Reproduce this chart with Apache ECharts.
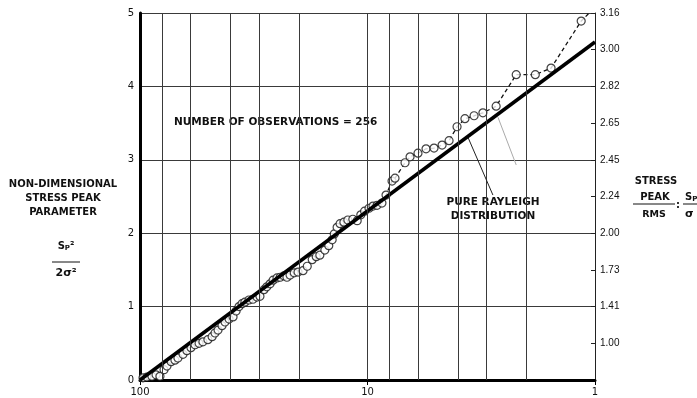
<!DOCTYPE html>
<html><head><meta charset="utf-8">
<script src="https://cdn.jsdelivr.net/npm/echarts@6/dist/echarts.min.js"></script>
<style>html,body{margin:0;padding:0;background:#fff}#c{width:697px;height:398px}</style>
</head><body><div id="c"></div>
<script>
// Percentage of peaks exceeding (log axis, reversed) and non-dimensional stress peak parameter
const observedPercent = [97.0, 93.2, 88.6, 85.0, 81.7, 78.4, 76.1, 73.0, 70.2, 68.1,
  64.7, 62.2, 59.7, 57.3, 55.0, 52.9, 50.3, 48.2, 46.8, 45.4,
  43.6, 42.3, 40.6, 39.0, 37.8, 36.7, 35.6, 34.6, 33.2, 31.9,
  30.6, 29.7, 28.5, 27.7, 26.8, 26.0, 25.0, 24.2, 23.3, 22.6,
  21.9, 21.0, 20.2, 19.2, 18.4, 17.5, 16.8, 16.2, 15.4, 14.8,
  14.3, 14.0, 13.6, 13.2, 12.7, 12.2, 11.6, 11.1, 10.7, 10.3,
  9.85, 9.46, 9.08, 8.64, 8.29, 7.80, 7.57, 6.84, 6.50, 6.00,
  5.53, 5.10, 4.70, 4.38, 4.04, 3.73, 3.40, 3.11, 2.72, 2.22,
  1.83, 1.56, 1.15];
const observedParam = [0.03, 0.04, 0.05, 0.07, 0.05, 0.14, 0.19, 0.25, 0.27, 0.30,
  0.35, 0.40, 0.44, 0.48, 0.50, 0.52, 0.55, 0.59, 0.64, 0.68,
  0.74, 0.79, 0.83, 0.86, 0.94, 1.00, 1.04, 1.06, 1.09, 1.10,
  1.13, 1.14, 1.23, 1.27, 1.31, 1.36, 1.39, 1.40, 1.42, 1.40,
  1.43, 1.46, 1.47, 1.49, 1.55, 1.64, 1.68, 1.70, 1.77, 1.83,
  1.91, 1.99, 2.08, 2.13, 2.15, 2.18, 2.19, 2.17, 2.25, 2.30,
  2.34, 2.37, 2.38, 2.41, 2.52, 2.71, 2.75, 2.96, 3.04, 3.09,
  3.15, 3.16, 3.20, 3.26, 3.45, 3.56, 3.60, 3.64, 3.73, 4.16,
  4.16, 4.25, 4.89];
// dashed curve drawn through the upper observations, extended to the top edge
const dashedPercent = [8.64, 8.29, 7.80, 7.57, 6.84, 6.50, 6.00, 5.53, 5.10, 4.70,
  4.38, 4.04, 3.73, 3.40, 3.11, 2.72, 2.22, 1.83, 1.56, 1.15, 1.06];
const dashedParam = [2.41, 2.52, 2.71, 2.75, 2.96, 3.04, 3.09, 3.15, 3.16, 3.20,
  3.26, 3.45, 3.56, 3.60, 3.64, 3.73, 4.16, 4.16, 4.25, 4.89, 5.0];
// pure Rayleigh distribution line end points
const rayleighPercent = [100, 1];
const rayleighParam = [0, 4.605];
// vertical grid lines (percent)
const gridPercents = [80, 60, 40, 30, 20, 10, 8, 6, 4, 3, 2];
// right axis: stress peak / rms labels
const rightTickLabels = ['1.00', '1.41', '1.73', '2.00', '2.24', '2.45', '2.65', '2.82', '3.00', '3.16'];
// leader lines (percent, param)
const leaderDark = [[3.61, 3.30], [2.81, 2.52]];
const leaderFaint = [[2.67, 3.58], [2.22, 2.93]];

const rightTickPos = rightTickLabels.map(l => Math.round(parseFloat(l) * parseFloat(l)) / 2);
const labelFor = v => {
  const i = rightTickPos.findIndex(p => Math.abs(p - v) < 1e-6);
  return i >= 0 ? rightTickLabels[i] : '';
};
const zip = (a, b) => a.map((x, i) => [x, b[i]]);

const chart = echarts.init(document.getElementById('c'));
const FONT = 'DejaVu Sans';
const opt = {
  animation: false,
  backgroundColor: '#fff',
  grid: {left: 140, right: 102, top: 13, bottom: 18},
  xAxis: {
    type: 'log', logBase: 10, min: 1, max: 100, inverse: true,
    axisLine: {show: true, lineStyle: {color: '#000', width: 3}},
    axisTick: {show: true, length: 5, lineStyle: {color: '#000', width: 1}},
    axisLabel: {fontSize: 10, color: '#111', margin: 7, fontFamily: FONT},
    splitLine: {show: false}, minorTick: {show: false}
  },
  yAxis: [{
    type: 'value', min: 0, max: 5, interval: 1, position: 'left',
    axisLine: {show: true, lineStyle: {color: '#000', width: 3}},
    axisTick: {show: false},
    axisLabel: {fontSize: 10, color: '#111', margin: 6, fontFamily: FONT},
    splitLine: {show: true, lineStyle: {color: '#3a3a3a', width: 1}}
  }, {
    type: 'value', min: 0, max: 5, position: 'right',
    axisLine: {show: true, lineStyle: {color: '#222', width: 1}},
    axisTick: {show: true, inside: true, length: 4, customValues: rightTickPos, lineStyle: {color: '#222'}},
    axisLabel: {customValues: rightTickPos, formatter: labelFor, fontSize: 10, color: '#111', margin: 5, fontFamily: 'Liberation Sans'},
    splitLine: {show: false}
  }],
  series: [{
    type: 'line', z: 1, data: zip(rayleighPercent, rayleighParam),
    showSymbol: false, lineStyle: {width: 0, opacity: 0}, silent: true,
    markLine: {
      silent: true, symbol: 'none', label: {show: false},
      lineStyle: {color: '#3a3a3a', width: 1, type: 'solid'},
      data: gridPercents.map(p => ({xAxis: p})).concat([
        [{coord: leaderDark[0], lineStyle: {color: '#222', width: 1}}, {coord: leaderDark[1]}],
        [{coord: leaderFaint[0], lineStyle: {color: '#aaa', width: 1}}, {coord: leaderFaint[1]}]
      ])
    }
  }, {
    type: 'line', z: 2, data: zip(dashedPercent, dashedParam), showSymbol: false,
    lineStyle: {color: '#111', width: 1.3, type: [4, 3]}, silent: true
  }, {
    type: 'scatter', z: 3, data: zip(observedPercent, observedParam),
    symbol: 'circle', symbolSize: 8,
    itemStyle: {color: '#fff', borderColor: '#111', borderWidth: 1.2}
  }, {
    type: 'line', z: 4, data: zip(rayleighPercent, rayleighParam), showSymbol: false,
    lineStyle: {color: '#000', width: 3.5}, silent: true
  }],
  graphic: [
    {type: 'text', style: {x: 174, y: 122, text: 'NUMBER OF OBSERVATIONS = 256', font: 'bold 10.5px DejaVu Sans', fill: '#111', verticalAlign: 'middle'}},
    {type: 'text', style: {x: 493, y: 202, text: 'PURE RAYLEIGH', font: 'bold 10.5px DejaVu Sans', fill: '#111', align: 'center', verticalAlign: 'middle'}},
    {type: 'text', style: {x: 493, y: 216, text: 'DISTRIBUTION', font: 'bold 10.5px DejaVu Sans', fill: '#111', align: 'center', verticalAlign: 'middle'}},
    {type: 'text', style: {x: 63, y: 184, text: 'NON-DIMENSIONAL', font: 'bold 10px DejaVu Sans', fill: '#111', align: 'center', verticalAlign: 'middle'}},
    {type: 'text', style: {x: 63, y: 198, text: 'STRESS PEAK', font: 'bold 10px DejaVu Sans', fill: '#111', align: 'center', verticalAlign: 'middle'}},
    {type: 'text', style: {x: 63, y: 212, text: 'PARAMETER', font: 'bold 10px DejaVu Sans', fill: '#111', align: 'center', verticalAlign: 'middle'}},
    {type: 'text', style: {x: 66, y: 246, text: '{s|S}{b|P}{s|²}', align: 'center', verticalAlign: 'middle',
      rich: {s: {font: 'bold 10px DejaVu Sans', fill: '#111'}, b: {font: 'bold 7px DejaVu Sans', fill: '#111', padding: [4, 0, 0, 0]}}}},
    {type: 'line', shape: {x1: 52, y1: 262, x2: 80, y2: 262}, style: {stroke: '#111', lineWidth: 1}},
    {type: 'text', style: {x: 66, y: 273, text: '2σ²', font: 'bold 11px DejaVu Sans', fill: '#111', align: 'center', verticalAlign: 'middle'}},
    {type: 'text', style: {x: 656, y: 181, text: 'STRESS', font: 'bold 10px DejaVu Sans', fill: '#111', align: 'center', verticalAlign: 'middle'}},
    {type: 'text', style: {x: 655, y: 197, text: 'PEAK', font: 'bold 10px DejaVu Sans', fill: '#111', align: 'center', verticalAlign: 'middle'}},
    {type: 'line', shape: {x1: 633, y1: 204, x2: 675, y2: 204}, style: {stroke: '#111', lineWidth: 1}},
    {type: 'text', style: {x: 654, y: 215, text: 'RMS', font: 'bold 9.5px DejaVu Sans', fill: '#111', align: 'center', verticalAlign: 'middle'}},
    {type: 'text', style: {x: 678, y: 205, text: ':', font: 'bold 10px DejaVu Sans', fill: '#111', align: 'center', verticalAlign: 'middle'}},
    {type: 'text', style: {x: 685, y: 197, text: '{s|S}{b|P}', verticalAlign: 'middle',
      rich: {s: {font: 'bold 10px DejaVu Sans', fill: '#111'}, b: {font: 'bold 7px DejaVu Sans', fill: '#111', padding: [4, 0, 0, 0]}}}},
    {type: 'line', shape: {x1: 683, y1: 204, x2: 697, y2: 204}, style: {stroke: '#111', lineWidth: 1}},
    {type: 'text', style: {x: 685, y: 214, text: 'σ', font: 'bold 11px DejaVu Sans', fill: '#111', verticalAlign: 'middle'}}
  ]
};
chart.setOption(opt);
</script></body></html>
